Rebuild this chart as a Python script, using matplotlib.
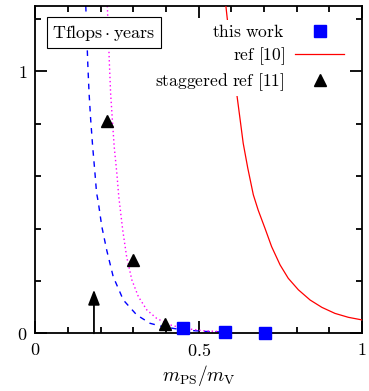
import matplotlib
matplotlib.use('Agg')
import matplotlib.pyplot as plt

plt.rcParams['mathtext.fontset'] = 'cm'
plt.rcParams['font.family'] = 'serif'
plt.rcParams['font.serif'] = ['cmr10', 'DejaVu Serif']
plt.rcParams['axes.formatter.use_mathtext'] = True

# this work
this_x = [0.453, 0.580, 0.703]
this_y = [0.019, 0.006, 0.002]

# staggered ref [11]
stag_x = [0.218, 0.300, 0.397]
stag_y = [0.809, 0.280, 0.036]

# ref [10] curve
ref10_x = [0.583, 0.587, 0.596, 0.605, 0.616, 0.626, 0.636, 0.650, 0.667,
           0.682, 0.703, 0.723, 0.749, 0.774, 0.805, 0.841, 0.877, 0.917,
           0.958, 1.0]
ref10_y = [1.25, 1.204, 1.111, 1.01, 0.917, 0.822, 0.726, 0.631, 0.529,
           0.470, 0.400, 0.331, 0.261, 0.210, 0.166, 0.127, 0.099, 0.076,
           0.061, 0.051]

# blue dashed curve
blue_x = [0.154, 0.160, 0.164, 0.169, 0.175, 0.182, 0.187, 0.192, 0.203,
          0.218, 0.238, 0.269, 0.310, 0.351, 0.391, 0.45, 0.52, 0.60]
blue_y = [1.25, 1.033, 0.918, 0.816, 0.714, 0.613, 0.536, 0.503, 0.408,
          0.318, 0.216, 0.127, 0.070, 0.038, 0.025, 0.013, 0.007, 0.004]

# magenta dotted curve
mag_x = [0.220, 0.226, 0.230, 0.236, 0.241, 0.249, 0.255, 0.267, 0.279,
         0.295, 0.315, 0.341, 0.371, 0.412, 0.453, 0.52, 0.60]
mag_y = [1.25, 1.038, 0.917, 0.803, 0.713, 0.612, 0.522, 0.395, 0.293,
         0.204, 0.140, 0.089, 0.057, 0.032, 0.019, 0.009, 0.005]

# arrow
arrow_x = 0.179
arrow_top = 0.166

fig = plt.figure(figsize=(3.69, 3.91), dpi=100)
ax = fig.add_axes([0.0962, 0.1476, 0.885, 0.8371])

ax.plot(blue_x, blue_y, color='blue', lw=1.0, ls=(0, (4, 4)))
ax.plot(mag_x, mag_y, color='magenta', lw=1.0, ls=(0, (1, 2)))
ax.plot(ref10_x, ref10_y, color='red', lw=0.9, label=r'$\mathrm{ref\ [10]}$', zorder=3)
ax.plot(stag_x, stag_y, ls='none', marker='^', color='black', ms=8,
        label=r'$\mathrm{staggered\ ref\ [11]}$', zorder=4)
ax.plot(this_x, this_y, ls='none', marker='s', color='blue', ms=8.5,
        label=r'$\mathrm{this\ work}$', zorder=5, clip_on=False)

ax.annotate('', xy=(arrow_x, arrow_top), xytext=(arrow_x, 0),
            arrowprops=dict(arrowstyle='-|>,head_length=0.9,head_width=0.35',
                            color='black', lw=1.3, shrinkA=0, shrinkB=0))

h, l = ax.get_legend_handles_labels()
order = [2, 0, 1]
leg = ax.legend([h[i] for i in order], [l[i] for i in order], loc='upper right',
                bbox_to_anchor=(0.967, 0.968),
                markerfirst=False, fontsize=12.6, frameon=True, fancybox=False,
                framealpha=1, edgecolor='none', handlelength=2.8,
                labelspacing=0.25, borderaxespad=0.2, handletextpad=0.6,
                borderpad=0.2)
leg.set_zorder(6)

ax.text(0.052, 1.148, r'$\mathrm{Tflops}\cdot\mathrm{years}$', fontsize=13,
        va='center', ha='left',
        bbox=dict(boxstyle='square,pad=0.3', fc='white', ec='black', lw=0.8),
        zorder=7)

ax.set_xlim(0, 1)
ax.set_ylim(0, 1.25)
ax.set_xticks([0, 0.5, 1])
ax.set_xticklabels([r'$0$', r'$0.5$', r'$1$'])
ax.set_xticks([0.1, 0.2, 0.3, 0.4, 0.6, 0.7, 0.8, 0.9], minor=True)
ax.set_yticks([0, 1])
ax.set_yticklabels([r'$0$', r'$1$'])
ax.set_yticks([0.2, 0.4, 0.6, 0.8, 1.2], minor=True)
ax.tick_params(which='both', direction='in', top=True, right=True,
               width=1.3, labelsize=13, pad=6)
ax.tick_params(which='major', length=8.5)
ax.tick_params(which='minor', length=4.3)
for s in ax.spines.values():
    s.set_linewidth(1.3)

ax.set_xlabel(r'$m_{\rm PS}/m_{\rm V}$', fontsize=14, labelpad=3)

fig.savefig('out.png', dpi=100)
